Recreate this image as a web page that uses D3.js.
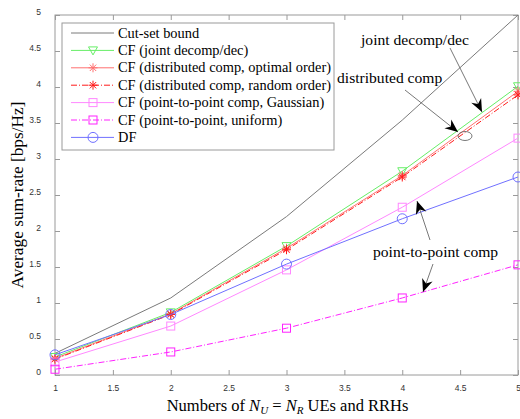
<!DOCTYPE html>
<html>
<head>
<meta charset="utf-8">
<script src="https://cdn.jsdelivr.net/npm/d3@7"></script>
<style>
  body { margin: 0; background: #fff; }
  .tick text { font-family: "Liberation Sans", Arial, sans-serif; font-size: 8.5px; fill: #333; }
</style>
</head>
<body>
<div id="graph"></div>
<script>
// values
var users = [1, 2, 3, 4, 5];
var cutSet = [0.30, 1.07, 2.20, 3.54, 5.00];
var cfJoint = [0.25, 0.87, 1.79, 2.83, 4.01];
var cfDistOpt = [0.23, 0.85, 1.76, 2.77, 3.94];
var cfDistRand = [0.22, 0.84, 1.74, 2.75, 3.89];
var cfP2pGauss = [0.18, 0.68, 1.46, 2.33, 3.29];
var cfP2pUnif = [0.08, 0.32, 0.65, 1.07, 1.53];
var dfRate = [0.28, 0.84, 1.54, 2.17, 2.75];
var xTicks = [1, 1.5, 2, 2.5, 3, 3.5, 4, 4.5, 5];
var yTicks = [0, 0.5, 1, 1.5, 2, 2.5, 3, 3.5, 4, 4.5, 5];

var series = [
    { name: "Cut-set bound", values: cutSet, color: "#7a7a7a", dash: null, marker: "none" },
    { name: "CF (joint decomp/dec)", values: cfJoint, color: "#66ee66", dash: null, marker: "tri" },
    { name: "CF (distributed comp, optimal order)", values: cfDistOpt, color: "#ff7070", dash: null, marker: "star" },
    { name: "CF (distributed comp, random order)", values: cfDistRand, color: "#ff1a1a", dash: "6,2,1,2", marker: "star" },
    { name: "CF (point-to-point comp, Gaussian)", values: cfP2pGauss, color: "#ff88ff", dash: null, marker: "square" },
    { name: "CF (point-to-point, uniform)", values: cfP2pUnif, color: "#ff22ff", dash: "6,2,1,2", marker: "square" },
    { name: "DF", values: dfRate, color: "#7070ff", dash: null, marker: "circle" }
];

var serifFont = "'Liberation Serif', 'DejaVu Serif', serif";

var W = 520, H = 419;
var margin = { top: 15, right: 2, bottom: 44, left: 55 };
var width = W - margin.left - margin.right, height = H - margin.top - margin.bottom;

var svg = d3.select("#graph").append("svg")
    .attr("width", W)
    .attr("height", H);

var g = svg.append("g")
    .attr("transform", "translate(" + margin.left + "," + margin.top + ")");

var x = d3.scaleLinear().domain([1, 5]).range([0, width]);
var y = d3.scaleLinear().domain([0, 5]).range([height, 0]);

// axes, MATLAB style: ticks inward, box on
var axisColor = "#9a9a9a";
function styleAxis(sel) {
    sel.select(".domain").remove();
    sel.selectAll(".tick line").attr("stroke", axisColor);
}
g.append("g").attr("transform", "translate(0," + height + ")")
    .call(d3.axisBottom(x).tickValues(xTicks).tickSize(-5).tickPadding(10).tickFormat(d3.format("")))
    .call(styleAxis);
g.append("g")
    .call(d3.axisLeft(y).tickValues(yTicks).tickSize(-5).tickPadding(14).tickFormat(d3.format("")))
    .call(styleAxis)
    .selectAll("text").attr("dy", "-0.1em");
g.append("g")
    .call(d3.axisTop(x).tickValues(xTicks).tickSize(-5).tickFormat(""))
    .call(styleAxis);
g.append("g").attr("transform", "translate(" + width + ",0)")
    .call(d3.axisRight(y).tickValues(yTicks).tickSize(-5).tickFormat(""))
    .call(styleAxis);
g.append("rect")
    .attr("width", width).attr("height", height)
    .attr("fill", "none").attr("stroke", axisColor).attr("stroke-width", 1);

function drawMarker(sel, type, color) {
    if (type == "tri") {
        sel.append("path").attr("d", "M-4.5,-3.5 L4.5,-3.5 L0,4.5 Z")
            .attr("fill", "none").attr("stroke", color);
    } else if (type == "star") {
        sel.append("path").attr("d", "M-4.5,0 L4.5,0 M0,-4.5 L0,4.5 M-3.2,-3.2 L3.2,3.2 M-3.2,3.2 L3.2,-3.2")
            .attr("fill", "none").attr("stroke", color);
    } else if (type == "square") {
        sel.append("rect").attr("x", -4).attr("y", -4).attr("width", 8).attr("height", 8)
            .attr("fill", "none").attr("stroke", color);
    } else if (type == "circle") {
        sel.append("circle").attr("r", 5)
            .attr("fill", "none").attr("stroke", color);
    }
}

var line = d3.line()
    .x(function (d, i) { return x(users[i]); })
    .y(function (d) { return y(d); });

series.forEach(function (s) {
    g.append("path")
        .attr("d", line(s.values))
        .attr("fill", "none")
        .attr("stroke", s.color)
        .attr("stroke-width", 1)
        .attr("stroke-dasharray", s.dash);
    if (s.marker != "none") {
        s.values.forEach(function (v, i) {
            var m = g.append("g").attr("transform", "translate(" + x(users[i]) + "," + y(v) + ")");
            drawMarker(m, s.marker, s.color);
        });
    }
});

// legend
var leg = svg.append("g").attr("transform", "translate(62,23)");
leg.append("rect")
    .attr("width", 272).attr("height", 127)
    .attr("fill", "#fff").attr("stroke", axisColor);
series.forEach(function (s, i) {
    var row = leg.append("g").attr("transform", "translate(0," + (10 + i * 17.4) + ")");
    row.append("line")
        .attr("x1", 9).attr("x2", 52)
        .attr("stroke", s.color)
        .attr("stroke-dasharray", s.dash);
    var m = row.append("g").attr("transform", "translate(31,0)");
    drawMarker(m, s.marker, s.color);
    row.append("text")
        .attr("x", 56).attr("y", 4.5)
        .style("font-family", serifFont)
        .style("font-size", "14.4px")
        .text(s.name);
});

// annotations
var ann = svg.append("g");
function arrow(x1, y1, x2, y2) {
    ann.append("line")
        .attr("x1", x1).attr("y1", y1).attr("x2", x2).attr("y2", y2)
        .attr("stroke", "#555").attr("stroke-width", 0.8);
    var a = Math.atan2(y2 - y1, x2 - x1) * 180 / Math.PI;
    ann.append("path")
        .attr("d", "M0,0 L-13,-5.5 L-9,0 L-13,5.5 Z")
        .attr("fill", "#000")
        .attr("transform", "translate(" + x2 + "," + y2 + ") rotate(" + a + ")");
}
function note(tx, ty, str) {
    ann.append("text").attr("x", tx).attr("y", ty)
        .style("font-family", serifFont)
        .style("font-size", "15.6px")
        .text(str);
}
note(361, 45, "joint decomp/dec");
arrow(450, 48, 482, 112);
note(337, 83, "distributed comp");
arrow(405, 90, 458, 132);
ann.append("ellipse")
    .attr("cx", 465).attr("cy", 136).attr("rx", 7).attr("ry", 4.5)
    .attr("fill", "none").attr("stroke", "#555").attr("stroke-width", 0.8);
note(373, 257, "point-to-point comp");
arrow(430, 240, 417, 201);
arrow(433, 264, 423, 292);

// axis labels
svg.append("text")
    .attr("transform", "translate(23," + (margin.top + height / 2) + ") rotate(-90)")
    .attr("text-anchor", "middle")
    .style("font-family", serifFont)
    .style("font-size", "17.3px")
    .text("Average sum-rate [bps/Hz]");

var xl = svg.append("text")
    .attr("x", margin.left + width / 2 + 1).attr("y", 411)
    .attr("text-anchor", "middle")
    .style("font-family", serifFont)
    .style("font-size", "16.5px");
xl.append("tspan").text("Numbers of ");
xl.append("tspan").style("font-style", "italic").text("N");
xl.append("tspan").style("font-style", "italic").style("font-size", "11px").attr("dy", 3).text("U");
xl.append("tspan").attr("dy", -3).text(" = ");
xl.append("tspan").style("font-style", "italic").text("N");
xl.append("tspan").style("font-style", "italic").style("font-size", "11px").attr("dy", 3).text("R");
xl.append("tspan").attr("dy", -3).text(" UEs and RRHs");
</script>
</body>
</html>
